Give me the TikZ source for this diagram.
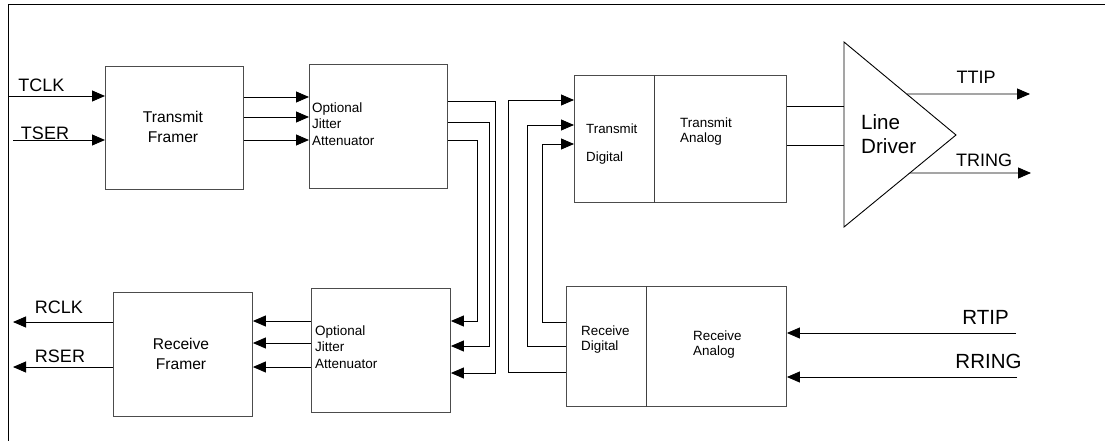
\documentclass[tikz,border=0pt]{standalone}
\usepackage{fontspec}
\setmainfont{Liberation Sans}
\usetikzlibrary{arrows.meta,calc}
\begin{document}
\begin{tikzpicture}[x=1pt,y=-1pt,
  box/.style={draw=black!70, line width=0.9pt, inner sep=0pt, anchor=north west},
  divider/.style={draw=black!75, line width=0.9pt},
  wire/.style={draw=black, line width=0.9pt},
  arr/.style={wire, -{Triangle[length=13pt,width=11pt]}},
  sig/.style={inner sep=0pt, font=\fontsize{18}{20}\selectfont},
  bigsig/.style={inner sep=0pt, font=\fontsize{20.5}{22}\selectfont},
  frm/.style={inner sep=0pt, align=center, font=\fontsize{15.6}{20}\selectfont},
  jit/.style={inner sep=0pt, align=left, anchor=west, font=\fontsize{13.5}{16.5}\selectfont},
  blk/.style={inner sep=0pt, align=left, anchor=west, font=\fontsize{13.4}{15}\selectfont},
  drv/.style={inner sep=0pt, align=left, anchor=west, font=\fontsize{20.6}{24}\selectfont}
]
\useasboundingbox (0,0) rectangle (1105,441);
% border
\draw[line width=0.9pt] (1105,4) -- (8,4) -- (8,441);

% boxes
\node[box, minimum width=138pt, minimum height=123pt] (tf) at (105,66) {};
\node[box, minimum width=138pt, minimum height=124pt] (tja) at (309,64) {};
\node[box, minimum width=139pt, minimum height=124pt] (rf) at (113,292) {};
\node[box, minimum width=139pt, minimum height=124pt] (rja) at (311,288) {};
\node[box, minimum width=212pt, minimum height=127pt] (tx) at (574,75) {};
\node[box, minimum width=220pt, minimum height=120pt] (rx) at (566,286) {};
\draw[divider] (tx.north -| 654,0) -- (tx.south -| 654,0);
\draw[divider] (rx.north -| 646,0) -- (rx.south -| 646,0);

% line driver triangle
\coordinate (ldt) at (844,42);
\coordinate (ldb) at (844,227);
\coordinate (lda) at (956,135);
\draw[wire] (ldt) -- (lda) -- (ldb) -- cycle;

% texts in boxes
\node[frm] (tft) at (173,127) {Transmit\\Framer};
\node[frm] (rft) at (181,354) {Receive\\Framer};
\node[jit] (tjt) at (312,124) {Optional\\Jitter\\Attenuator};
\node[jit] (rjt) at (315,347) {Optional\\Jitter\\Attenuator};
\node[inner sep=0pt, align=left, anchor=west, font=\fontsize{13.3}{28}\selectfont] (tdt) at (586,144) {Transmit\\Digital};
\node[blk] (tat) at (680,132) {Transmit\\Analog};
\node[blk] (rdt) at (581,340) {Receive\\Digital};
\node[blk] (rat) at (693,345) {Receive\\Analog};
\node[drv] (ldt2) at (861,134) {Line\\Driver};

% signal labels
\node[sig] (tclk) at (41.5,85) {TCLK};
\node[sig] (tser) at (45,133.5) {TSER};
\node[sig] (rclk) at (59,307) {RCLK};
\node[sig] (rser) at (60,356.5) {RSER};
\node[sig] (ttip) at (976,77) {TTIP};
\node[sig] (tring) at (984,160) {TRING};
\node[bigsig] (rtip) at (985.5,317.5) {RTIP};
\node[bigsig] (rring) at (988.5,361.5) {RRING};

% free ends
\coordinate (tclkin) at (8,96);
\coordinate (tserin) at (13,140);
\coordinate (rclkout) at (13,322);
\coordinate (rserout) at (13,367);
\coordinate (ttipout) at (1030,94);
\coordinate (tringout) at (1031,173);
\coordinate (rtipin) at (1016,333);
\coordinate (rringin) at (1017,377);

% transmit side
\draw[arr] (tclkin) -- (tf.west |- tclkin);
\draw[arr] (tserin) -- (tf.west |- tserin);
\foreach \y in {97,117,140} \draw[arr] (tf.east |- 0,\y) -- (tja.west |- 0,\y);

% jitter to jitter
\draw[arr] (tja.east |- 0,101) -| (495,373) -- (rja.east |- 0,373);
\draw[arr] (tja.east |- 0,122) -| (489,346) -- (rja.east |- 0,346);
\draw[arr] (tja.east |- 0,140) -| (477,321) -- (rja.east |- 0,321);

% receive side
\foreach \y in {321,343,367} \draw[arr] (rja.west |- 0,\y) -- (rf.east |- 0,\y);
\draw[arr] (rf.west |- rclkout) -- (rclkout);
\draw[arr] (rf.west |- rserout) -- (rserout);

% receive digital to transmit digital
\draw[arr] (rx.west |- 0,372) -| (508,100) -- (tx.west |- 0,100);
\draw[arr] (rx.west |- 0,346) -| (527,125) -- (tx.west |- 0,125);
\draw[arr] (rx.west |- 0,322) -| (542,144) -- (tx.west |- 0,144);

% transmit analog to line driver
\draw[wire] (tx.east |- 0,106) -- (ldt |- 0,106);
\draw[wire] (tx.east |- 0,145) -- (ldt |- 0,145);
\draw[arr] ($(ldt)!0.559!(lda)$) -- (ttipout);
\draw[arr] ($(lda)!0.413!(ldb)$) -- (tringout);

% line inputs
\draw[arr] (rtipin) -- (rx.east |- rtipin);
\draw[arr] (rringin) -- (rx.east |- rringin);
\end{tikzpicture}
\end{document}
